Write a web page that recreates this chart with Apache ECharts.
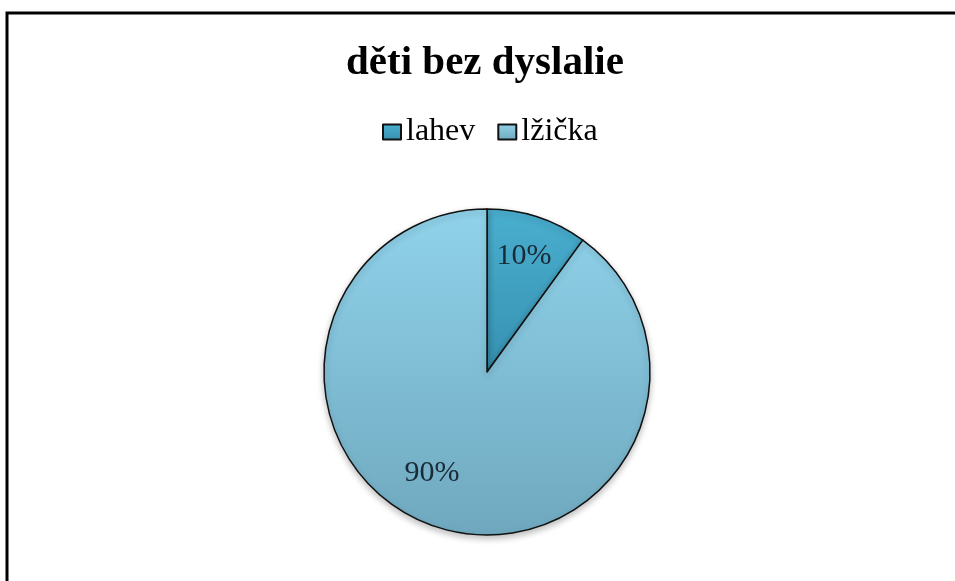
<!DOCTYPE html>
<html>
<head>
<meta charset="utf-8">
<script src="https://cdn.jsdelivr.net/npm/echarts@6/dist/echarts.min.js"></script>
<style>
  html, body { margin: 0; padding: 0; background: #ffffff; }
  #chart { width: 955px; height: 581px; }
</style>
</head>
<body>
<div id="chart"></div>
<script>
// Share of children without dyslalia by feeding method
const titleText = 'děti bez dyslalie';
const categories = ['lahev', 'lžička'];
const shares = [10, 90];

const sliceFills = [
  { top: '#4aafcf', bottom: '#3690b0' },
  { top: '#90d3eb', bottom: '#6fa8be' }
];
const labelOffsets = [[11, -36], [-29, 21]];

const serif = '"Liberation Serif", "Times New Roman", serif';

function fill(c) {
  return new echarts.graphic.LinearGradient(0, 0, 0, 1, [
    { offset: 0, color: c.top },
    { offset: 1, color: c.bottom }
  ]);
}

const chart = echarts.init(document.getElementById('chart'), null, { renderer: 'canvas' });

chart.setOption({
  backgroundColor: '#ffffff',
  animation: false,
  title: {
    text: titleText,
    left: 480,
    textAlign: 'center',
    top: 38,
    textStyle: { fontFamily: serif, fontSize: 41, fontWeight: 'bold', color: '#000000' }
  },
  legend: {
    data: categories,
    left: 377,
    top: 111,
    itemWidth: 18,
    itemHeight: 15,
    itemGap: 22,
    icon: 'rect',
    textStyle: { fontFamily: serif, fontSize: 32, color: '#000000' }
  },
  graphic: [{
    type: 'polyline',
    shape: { points: [[7, 581], [7, 13], [955, 13]] },
    style: { stroke: '#000000', lineWidth: 3, fill: null },
    silent: true
  }],
  series: [{
    type: 'pie',
    center: [487, 372],
    radius: 163,
    startAngle: 90,
    clockwise: true,
    label: {
      show: true,
      position: 'inside',
      formatter: '{c}%',
      fontFamily: serif,
      fontSize: 30,
      color: '#1a2a38'
    },
    labelLine: { show: false },
    itemStyle: {
      borderColor: '#111111',
      borderWidth: 1.5,
      shadowColor: 'rgba(0,0,0,0.25)',
      shadowBlur: 6,
      shadowOffsetY: 3
    },
    emphasis: { disabled: true },
    data: categories.map((name, i) => ({
      name: name,
      value: shares[i],
      itemStyle: { color: fill(sliceFills[i]) },
      label: { offset: labelOffsets[i] }
    }))
  }]
});
</script>
</body>
</html>
